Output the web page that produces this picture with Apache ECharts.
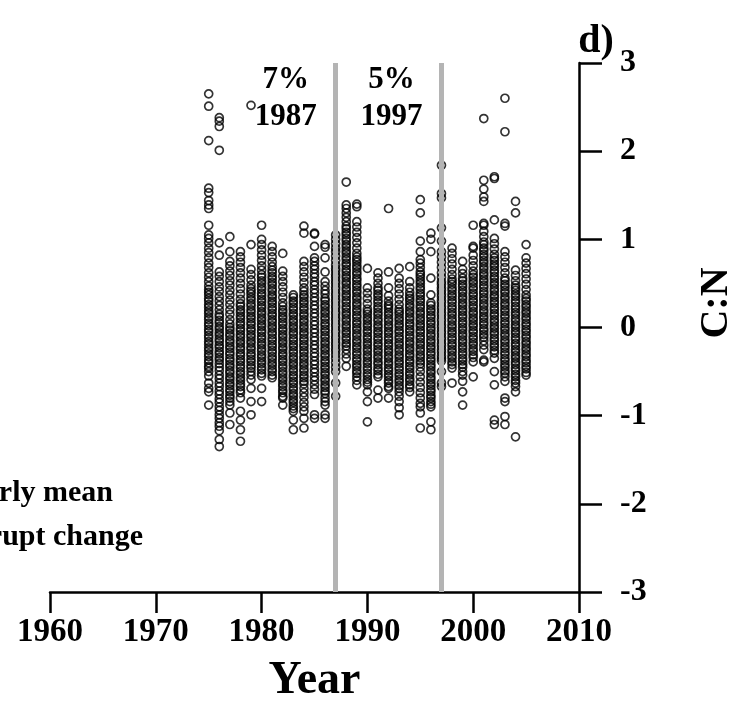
<!DOCTYPE html>
<html>
<head>
<meta charset="utf-8">
<script src="https://cdn.jsdelivr.net/npm/echarts@6/dist/echarts.min.js"></script>
<style>
html,body{margin:0;padding:0;background:#fff;}
#chart{width:755px;height:716px;}
</style>
</head>
<body>
<div id="chart"></div>
<script>
// ---- data ----
const years = [1975,1976,1977,1978,1979,1980,1981,1982,1983,1984,1985,1986,1987,1988,1989,1990,1991,1992,1993,1994,1995,1996,1997,1998,1999,2000,2001,2002,2003,2004,2005];
const cnValues = [
/*1975*/[2.65,2.51,2.12,1.58,1.53,1.44,1.39,1.35,1.16,1.05,1.01,0.96,0.90,0.85,0.79,0.73,0.68,0.62,0.57,0.52,0.47,0.43,0.40,0.37,0.33,0.30,0.26,0.23,0.19,0.16,0.12,0.09,0.05,0.02,-0.02,-0.05,-0.09,-0.12,-0.16,-0.19,-0.23,-0.26,-0.30,-0.33,-0.37,-0.40,-0.44,-0.46,-0.50,-0.55,-0.63,-0.69,-0.73,-0.88],
/*1976*/[2.38,2.34,2.28,2.01,0.96,0.82,0.63,0.58,0.52,0.46,0.41,0.35,0.30,0.25,0.20,0.15,0.12,0.08,0.05,0.01,-0.02,-0.06,-0.09,-0.13,-0.16,-0.20,-0.23,-0.27,-0.30,-0.34,-0.37,-0.41,-0.45,-0.49,-0.54,-0.58,-0.63,-0.67,-0.72,-0.76,-0.81,-0.85,-0.90,-0.94,-0.99,-1.03,-1.08,-1.12,-1.17,-1.27,-1.35],
/*1977*/[1.03,0.86,0.75,0.70,0.64,0.59,0.53,0.48,0.42,0.37,0.31,0.26,0.20,0.15,0.09,0.04,0.00,-0.03,-0.07,-0.10,-0.14,-0.17,-0.21,-0.24,-0.28,-0.31,-0.35,-0.38,-0.42,-0.45,-0.49,-0.52,-0.56,-0.59,-0.63,-0.66,-0.70,-0.73,-0.77,-0.80,-0.84,-0.88,-0.97,-1.10],
/*1978*/[0.86,0.80,0.74,0.68,0.62,0.56,0.50,0.44,0.38,0.32,0.27,0.24,0.20,0.17,0.13,0.10,0.06,0.03,-0.01,-0.04,-0.08,-0.11,-0.15,-0.18,-0.22,-0.25,-0.29,-0.32,-0.36,-0.39,-0.43,-0.46,-0.50,-0.53,-0.57,-0.60,-0.64,-0.67,-0.71,-0.74,-0.80,-0.95,-1.05,-1.16,-1.29],
/*1979*/[2.52,0.94,0.66,0.60,0.54,0.48,0.44,0.41,0.38,0.34,0.31,0.27,0.24,0.20,0.17,0.13,0.10,0.06,0.03,-0.01,-0.04,-0.08,-0.11,-0.15,-0.18,-0.22,-0.25,-0.29,-0.32,-0.36,-0.39,-0.43,-0.46,-0.50,-0.54,-0.59,-0.69,-0.84,-0.99],
/*1980*/[1.16,1.00,0.94,0.88,0.82,0.76,0.70,0.65,0.60,0.57,0.53,0.50,0.46,0.43,0.39,0.36,0.32,0.29,0.25,0.22,0.18,0.15,0.11,0.08,0.04,0.01,-0.03,-0.06,-0.10,-0.13,-0.17,-0.20,-0.24,-0.27,-0.31,-0.34,-0.38,-0.41,-0.45,-0.48,-0.52,-0.55,-0.69,-0.84],
/*1981*/[0.92,0.86,0.80,0.74,0.69,0.65,0.62,0.58,0.55,0.51,0.48,0.44,0.41,0.37,0.34,0.30,0.27,0.23,0.20,0.16,0.13,0.09,0.06,0.02,-0.01,-0.05,-0.08,-0.12,-0.15,-0.19,-0.22,-0.26,-0.29,-0.33,-0.36,-0.40,-0.43,-0.47,-0.50,-0.54,-0.57],
/*1982*/[0.84,0.64,0.58,0.52,0.46,0.40,0.34,0.28,0.24,0.20,0.17,0.13,0.10,0.06,0.03,-0.01,-0.04,-0.08,-0.11,-0.15,-0.18,-0.22,-0.25,-0.29,-0.32,-0.36,-0.39,-0.43,-0.46,-0.50,-0.53,-0.57,-0.60,-0.64,-0.67,-0.71,-0.74,-0.78,-0.80,-0.88],
/*1983*/[0.37,0.34,0.30,0.27,0.23,0.20,0.16,0.13,0.09,0.06,0.02,-0.01,-0.05,-0.08,-0.12,-0.15,-0.19,-0.22,-0.26,-0.29,-0.33,-0.36,-0.40,-0.43,-0.47,-0.50,-0.54,-0.57,-0.61,-0.64,-0.68,-0.71,-0.75,-0.78,-0.82,-0.85,-0.89,-0.92,-0.95,-1.05,-1.16],
/*1984*/[1.15,1.07,0.75,0.69,0.63,0.57,0.51,0.45,0.41,0.37,0.34,0.30,0.27,0.23,0.20,0.16,0.13,0.09,0.06,0.02,-0.01,-0.05,-0.08,-0.12,-0.15,-0.19,-0.22,-0.26,-0.29,-0.33,-0.36,-0.40,-0.43,-0.47,-0.50,-0.54,-0.57,-0.61,-0.64,-0.69,-0.74,-0.79,-0.85,-0.90,-0.95,-1.03,-1.14],
/*1985*/[1.07,1.06,0.92,0.79,0.75,0.70,0.66,0.61,0.57,0.52,0.48,0.43,0.39,0.34,0.30,0.25,0.21,0.16,0.12,0.07,0.03,-0.02,-0.06,-0.11,-0.15,-0.20,-0.24,-0.29,-0.33,-0.38,-0.42,-0.47,-0.51,-0.56,-0.60,-0.65,-0.70,-0.76,-0.99,-1.03],
/*1986*/[0.94,0.91,0.79,0.63,0.52,0.47,0.42,0.38,0.33,0.30,0.26,0.23,0.19,0.16,0.12,0.09,0.05,0.02,-0.02,-0.05,-0.09,-0.12,-0.16,-0.19,-0.23,-0.26,-0.30,-0.33,-0.37,-0.40,-0.44,-0.47,-0.51,-0.54,-0.58,-0.61,-0.65,-0.68,-0.72,-0.75,-0.80,-0.84,-0.88,-0.99,-1.03],
/*1987*/[1.05,1.00,0.95,0.90,0.86,0.81,0.76,0.71,0.67,0.64,0.60,0.57,0.53,0.50,0.46,0.43,0.39,0.36,0.32,0.29,0.25,0.22,0.18,0.15,0.11,0.08,0.04,0.01,-0.03,-0.06,-0.10,-0.13,-0.17,-0.20,-0.24,-0.27,-0.31,-0.35,-0.40,-0.45,-0.50,-0.63,-0.78],
/*1988*/[1.65,1.39,1.35,1.30,1.25,1.20,1.15,1.12,1.08,1.05,1.01,0.98,0.94,0.91,0.87,0.84,0.80,0.77,0.73,0.70,0.66,0.63,0.59,0.56,0.52,0.49,0.45,0.42,0.38,0.35,0.31,0.28,0.24,0.21,0.17,0.14,0.10,0.07,0.03,0.00,-0.04,-0.07,-0.11,-0.14,-0.18,-0.21,-0.25,-0.30,-0.35,-0.44],
/*1989*/[1.40,1.37,1.20,1.14,1.08,1.02,0.96,0.90,0.84,0.80,0.77,0.74,0.70,0.67,0.63,0.60,0.56,0.53,0.49,0.46,0.42,0.39,0.35,0.32,0.28,0.25,0.21,0.18,0.14,0.11,0.07,0.04,0.00,-0.03,-0.07,-0.10,-0.14,-0.17,-0.21,-0.24,-0.28,-0.31,-0.35,-0.38,-0.42,-0.45,-0.49,-0.52,-0.56,-0.60,-0.65],
/*1990*/[0.67,0.45,0.39,0.33,0.27,0.21,0.18,0.15,0.11,0.08,0.04,0.01,-0.03,-0.06,-0.10,-0.13,-0.17,-0.20,-0.24,-0.27,-0.31,-0.34,-0.38,-0.41,-0.45,-0.48,-0.52,-0.55,-0.59,-0.62,-0.65,-0.73,-0.84,-1.07],
/*1991*/[0.62,0.56,0.50,0.45,0.42,0.38,0.35,0.31,0.28,0.24,0.21,0.17,0.14,0.10,0.07,0.03,0.00,-0.04,-0.07,-0.11,-0.14,-0.18,-0.21,-0.25,-0.28,-0.32,-0.35,-0.39,-0.42,-0.46,-0.49,-0.53,-0.56,-0.71,-0.80],
/*1992*/[1.35,0.63,0.45,0.36,0.30,0.26,0.24,0.21,0.17,0.14,0.10,0.07,0.03,0.00,-0.04,-0.07,-0.11,-0.14,-0.18,-0.21,-0.25,-0.28,-0.32,-0.35,-0.39,-0.42,-0.46,-0.49,-0.53,-0.56,-0.60,-0.63,-0.67,-0.69,-0.80],
/*1993*/[0.67,0.56,0.50,0.44,0.38,0.32,0.26,0.21,0.18,0.15,0.11,0.08,0.04,0.01,-0.03,-0.06,-0.10,-0.13,-0.17,-0.20,-0.24,-0.27,-0.31,-0.34,-0.38,-0.41,-0.45,-0.48,-0.52,-0.55,-0.59,-0.62,-0.66,-0.69,-0.73,-0.78,-0.84,-0.91,-0.99],
/*1994*/[0.69,0.52,0.45,0.40,0.36,0.33,0.30,0.26,0.23,0.19,0.16,0.12,0.09,0.05,0.02,-0.02,-0.05,-0.09,-0.12,-0.16,-0.19,-0.23,-0.26,-0.30,-0.33,-0.37,-0.40,-0.44,-0.47,-0.51,-0.54,-0.58,-0.61,-0.65,-0.68,-0.73],
/*1995*/[1.45,1.30,0.98,0.86,0.77,0.73,0.68,0.63,0.60,0.57,0.53,0.50,0.46,0.43,0.39,0.36,0.32,0.29,0.25,0.22,0.18,0.15,0.11,0.08,0.04,0.01,-0.03,-0.06,-0.10,-0.13,-0.17,-0.20,-0.24,-0.27,-0.31,-0.34,-0.38,-0.41,-0.45,-0.50,-0.56,-0.62,-0.68,-0.74,-0.80,-0.86,-0.90,-0.97,-1.14],
/*1996*/[1.07,1.00,0.86,0.56,0.37,0.28,0.25,0.21,0.18,0.14,0.11,0.07,0.04,0.00,-0.03,-0.07,-0.10,-0.14,-0.17,-0.21,-0.24,-0.28,-0.31,-0.35,-0.38,-0.42,-0.45,-0.49,-0.52,-0.56,-0.59,-0.63,-0.66,-0.70,-0.73,-0.77,-0.80,-0.84,-0.87,-0.90,-1.07,-1.16],
/*1997*/[1.84,1.52,1.47,1.13,0.98,0.86,0.80,0.74,0.68,0.62,0.57,0.52,0.49,0.45,0.42,0.38,0.35,0.31,0.28,0.24,0.21,0.17,0.14,0.10,0.07,0.03,0.00,-0.04,-0.07,-0.11,-0.14,-0.18,-0.21,-0.25,-0.28,-0.32,-0.35,-0.38,-0.50,-0.63,-0.67],
/*1998*/[0.90,0.84,0.78,0.72,0.66,0.60,0.55,0.52,0.49,0.45,0.42,0.38,0.35,0.31,0.28,0.24,0.21,0.17,0.14,0.10,0.07,0.03,0.00,-0.04,-0.07,-0.11,-0.14,-0.18,-0.21,-0.25,-0.28,-0.32,-0.35,-0.39,-0.42,-0.46,-0.63],
/*1999*/[0.75,0.66,0.61,0.56,0.53,0.49,0.46,0.42,0.39,0.35,0.32,0.28,0.25,0.21,0.18,0.14,0.11,0.07,0.04,0.00,-0.03,-0.07,-0.10,-0.14,-0.17,-0.21,-0.24,-0.28,-0.31,-0.35,-0.38,-0.42,-0.45,-0.50,-0.54,-0.61,-0.73,-0.88],
/*2000*/[1.16,0.92,0.90,0.82,0.76,0.70,0.64,0.60,0.57,0.53,0.50,0.46,0.43,0.39,0.36,0.32,0.29,0.25,0.22,0.18,0.15,0.11,0.08,0.04,0.01,-0.03,-0.06,-0.10,-0.13,-0.17,-0.20,-0.24,-0.27,-0.31,-0.34,-0.39,-0.56],
/*2001*/[2.37,1.67,1.57,1.48,1.43,1.18,1.16,1.09,1.03,0.97,0.94,0.90,0.87,0.83,0.80,0.76,0.73,0.69,0.66,0.62,0.59,0.55,0.52,0.48,0.45,0.41,0.38,0.34,0.31,0.27,0.24,0.20,0.17,0.13,0.10,0.06,0.03,-0.01,-0.04,-0.08,-0.11,-0.15,-0.20,-0.25,-0.37,-0.39],
/*2002*/[1.71,1.69,1.22,1.01,0.95,0.89,0.83,0.79,0.76,0.72,0.69,0.65,0.62,0.58,0.55,0.51,0.48,0.44,0.41,0.37,0.34,0.30,0.27,0.23,0.20,0.16,0.13,0.09,0.06,0.02,-0.01,-0.05,-0.08,-0.12,-0.15,-0.19,-0.22,-0.26,-0.29,-0.35,-0.50,-0.65,-1.05,-1.10],
/*2003*/[2.60,2.22,1.18,1.15,0.86,0.80,0.74,0.68,0.62,0.56,0.53,0.49,0.46,0.42,0.39,0.35,0.32,0.28,0.25,0.21,0.18,0.14,0.11,0.07,0.04,0.00,-0.03,-0.07,-0.10,-0.14,-0.17,-0.21,-0.24,-0.28,-0.31,-0.35,-0.38,-0.42,-0.45,-0.49,-0.52,-0.56,-0.61,-0.80,-0.84,-1.01,-1.10],
/*2004*/[1.43,1.30,0.65,0.59,0.53,0.48,0.45,0.42,0.38,0.35,0.31,0.28,0.24,0.21,0.17,0.14,0.10,0.07,0.03,0.00,-0.04,-0.07,-0.11,-0.14,-0.18,-0.21,-0.25,-0.28,-0.32,-0.35,-0.39,-0.42,-0.46,-0.49,-0.53,-0.56,-0.60,-0.63,-0.67,-0.73,-1.24],
/*2005*/[0.94,0.79,0.73,0.67,0.61,0.55,0.49,0.43,0.37,0.33,0.30,0.26,0.23,0.19,0.16,0.12,0.09,0.05,0.02,-0.02,-0.05,-0.09,-0.12,-0.16,-0.19,-0.23,-0.26,-0.30,-0.33,-0.37,-0.40,-0.44,-0.47,-0.51,-0.54]
];
const changeYears = [1987, 1997];
const changeLabels = [['7%', '1987'], ['5%', '1997']];
const xTicks = [1960, 1970, 1980, 1990, 2000, 2010];
const yTicks = [-3, -2, -1, 0, 1, 2, 3];

// ---- build ----
const points = [];
years.forEach((yr, i) => cnValues[i].forEach(v => points.push([yr, v])));

const FONT = "'Liberation Serif', 'Times New Roman', serif";
const chart = echarts.init(document.getElementById('chart'), null, {renderer: 'canvas'});

const option = {
  animation: false,
  backgroundColor: '#fff',
  grid: {left: 50, right: 176, top: 63, bottom: 124, containLabel: false},
  xAxis: {
    type: 'value',
    min: xTicks[0], max: xTicks[xTicks.length - 1], interval: 10,
    position: 'bottom',
    name: 'Year', nameLocation: 'middle', nameGap: 66,
    nameTextStyle: {fontFamily: FONT, fontWeight: 'bold', fontSize: 46, color: '#000'},
    axisLine: {show: true, onZero: false, lineStyle: {color: '#000', width: 2.5}},
    axisTick: {show: true, inside: false, length: 21, lineStyle: {color: '#000', width: 2.5}},
    axisLabel: {fontFamily: FONT, fontWeight: 'bold', fontSize: 33, color: '#000', margin: 24,
                formatter: v => String(v)},
    splitLine: {show: false}
  },
  yAxis: {
    type: 'value',
    min: yTicks[0], max: yTicks[yTicks.length - 1], interval: 1,
    position: 'right',
    axisLine: {show: true, onZero: false, lineStyle: {color: '#000', width: 2.5}},
    axisTick: {show: true, inside: false, length: 23, lineStyle: {color: '#000', width: 2.5}},
    axisLabel: {fontFamily: FONT, fontWeight: 'bold', fontSize: 32, color: '#000', margin: 41, align: 'left',
                formatter: v => String(v)},
    splitLine: {show: false}
  },
  series: [
    {
      type: 'scatter',
      data: points,
      symbol: 'circle',
      symbolSize: 8,
      large: false,
      progressive: 0,
      itemStyle: {color: 'rgba(0,0,0,0)', borderColor: '#000', borderWidth: 1.7},
      emphasis: {disabled: true},
      z: 2
    },
    {
      type: 'scatter',
      data: [],
      z: 5,
      markLine: {
        silent: true,
        symbol: ['none', 'none'],
        label: {show: false},
        lineStyle: {color: '#b4b4b4', width: 5, type: 'solid'},
        data: changeYears.map(y => ({xAxis: y}))
      }
    }
  ],
  graphic: []
};
chart.setOption(option);

// labels near the abrupt-change lines
const g = [];
changeYears.forEach((yr, i) => {
  const px = chart.convertToPixel({gridIndex: 0}, [yr, 0])[0];
  g.push({type: 'text', x: px - 50, y: 80, style: {text: changeLabels[i][0], font: `bold 31px ${FONT}`, fill: '#000', textAlign: 'center', textVerticalAlign: 'middle'}});
  g.push({type: 'text', x: px - 50, y: 117, style: {text: changeLabels[i][1], font: `bold 31px ${FONT}`, fill: '#000', textAlign: 'center', textVerticalAlign: 'middle'}});
});
g.push({type: 'text', x: 596, y: 42, style: {text: 'd)', font: `bold 40px ${FONT}`, fill: '#000', textAlign: 'center', textVerticalAlign: 'middle'}});
g.push({type: 'text', x: 717, y: 303, rotation: Math.PI / 2, style: {text: 'C:N', font: `bold 40px ${FONT}`, fill: '#000', textAlign: 'center', textVerticalAlign: 'middle'}});
g.push({type: 'text', x: 113, y: 493, style: {text: 'Yearly mean', font: `bold 30px ${FONT}`, fill: '#000', textAlign: 'right', textVerticalAlign: 'middle'}});
g.push({type: 'text', x: 143, y: 537, style: {text: 'Abrupt change', font: `bold 30px ${FONT}`, fill: '#000', textAlign: 'right', textVerticalAlign: 'middle'}});
chart.setOption({graphic: g});
</script>
</body>
</html>
